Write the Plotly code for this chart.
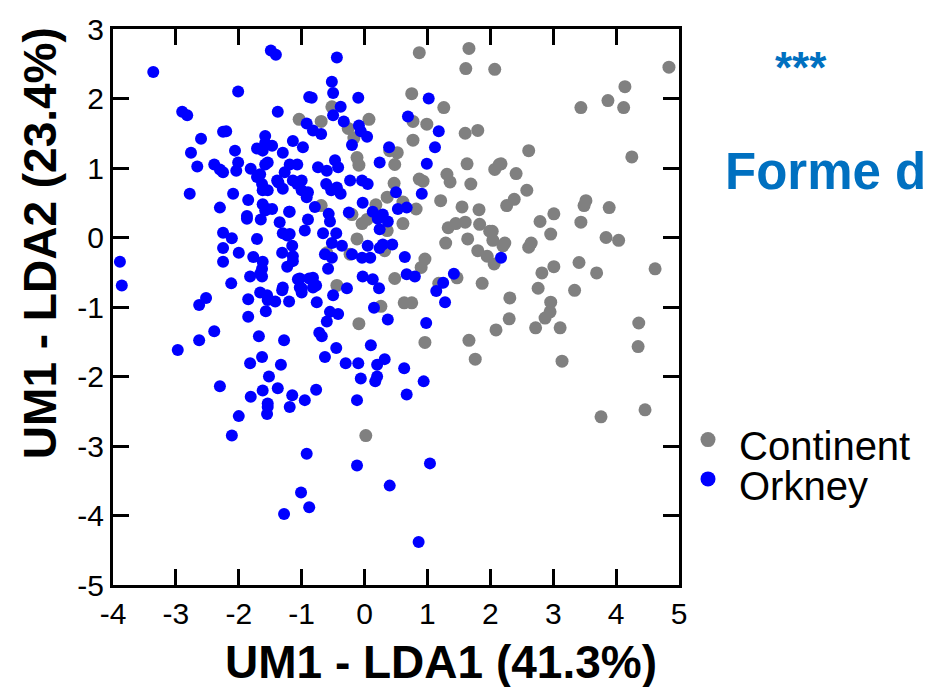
import plotly.graph_objects as go

# Continent (grey) group: LDA1, LDA2
continent_x = [0.87, 1.66, 1.61, 2.07, 0.75, 1.26, -0.52, -0.69, -1.04, 0.07, 0.77, 0.99, -0.26, 1.60, 1.80,
               0.77, -0.17, -0.12, -0.09, 0.52, 0.48, 0.40, 1.63, 2.07, 2.14, 0.87, 0.93, 1.31, 1.36, 1.69,
               0.47, 0.36, 1.21, 1.55, 1.82, 0.82, 0.61, 0.18, -0.69, 4.84, 4.14, 3.87, 4.12, 3.44, 2.61,
               4.25, 2.17, 2.41, 2.58, 2.38, 2.26, 3.52, 3.49, 3.89, 3.01, 2.79, 3.44, 2.96, 3.84, 4.04,
               2.03, 2.04, 2.23, 2.20, 2.65, 2.61, 2.06, 3.01, 3.41, 2.82, 3.69, 4.62, 2.76, 3.34, 2.31,
               2.96, 2.95, 2.87, 2.30, 2.09, 2.72, 3.11, 4.36, 4.35, 3.14, 3.76, 4.46, 0.61, -0.04, 0.04,
               0.20, -0.20, 0.36, -0.12, 0.32, -0.23, -0.60, 0.96, 0.90, 0.48, -0.44, 1.18, 1.47, 1.87,
               1.29, 1.33, 1.45, 1.60, 1.64, 1.83, 1.99, 1.80, 1.95, 0.63, 0.75, 0.26, -0.09, 0.96, 1.66,
               1.76, 0.02]
continent_y = [2.66, 2.72, 2.43, 2.42, 2.07, 1.87, 1.88, 1.67, 1.70, 1.70, 1.67, 1.63, 1.57, 1.50, 1.54,
               1.40, 1.43, 1.15, 1.04, 1.22, 1.05, 1.25, 1.06, 0.98, 1.05, 0.84, 0.81, 0.91, 0.80, 0.77,
               0.78, 0.58, 0.53, 0.44, 0.40, 0.41, 0.51, 0.47, 0.46, 2.45, 2.17, 1.97, 1.87, 1.87, 1.25,
               1.16, 1.06, 0.92, 0.68, 0.55, 0.46, 0.53, 0.46, 0.43, 0.34, 0.23, 0.22, 0.05, 0.00, -0.04,
               0.09, -0.04, -0.08, -0.12, -0.08, -0.14, -0.38, -0.42, -0.36, -0.51, -0.51, -0.45, -0.73, -0.76, -0.87,
               -0.93, -1.07, -1.16, -1.17, -1.33, -1.30, -1.30, -1.23, -1.57, -1.78, -2.58, -2.48, 0.20, 0.20, 0.26,
               0.34, 0.33, 0.10, -0.02, -0.19, -0.24, -0.22, -0.31, -0.43, -0.59, -0.69, -0.66, -0.58, -0.66,
               -0.08, 0.14, 0.20, 0.22, -0.02, 0.19, 0.09, -0.19, -0.27, -0.94, -0.94, -0.99, -1.24, -1.51, -1.48,
               -1.75, -2.85]

# Orkney (blue) group: LDA1, LDA2
orkney_x = [-3.36, -1.49, -1.41, -2.01, -1.38, -2.90, -2.82, -0.88, -2.25, -2.20, -2.60, -2.76, -2.06, -1.58, -1.58,
            -1.71, -1.62, -1.47, -1.14, -0.98, -1.30, -0.92, -2.66, -2.39, -2.30, -2.25, -2.01, -2.04, -1.81, -1.58,
            -1.54, -1.71, -1.66, -1.63, -1.39, -1.37, -1.27, -1.19, -1.07, -1.14, -1.07, -1.00, -0.92, -2.78, -2.09,
            -1.85, -2.30, -1.62, -1.55, -1.47, -1.19, -1.30, -1.62, -1.54, -1.87, -3.89, -3.86, -1.87, -1.65, -1.58,
            -1.35, -1.20, -0.90, -0.95, -2.25, -2.11, -1.71, -1.30, -1.23, -1.19, -2.25, -2.00, -1.77, -1.15, -1.14,
            -1.14, -1.31, -2.25, -1.62, -1.63, -1.66, -1.63, -1.82, -1.23, -1.06, -1.03, -1.00, -0.88, -2.12, -1.66,
            -1.55, -1.54, -1.42, -1.31, -1.30, -1.85, -1.20, -2.52, -2.63, -1.57, -1.85, -2.39, -2.63, -2.97, -1.68,
            -1.28, -1.82, -1.63, -1.33, -1.52, -2.30, -1.81, -1.62, -1.38, -1.15, -0.95, -1.54, -2.00, -1.54, -1.55,
            -1.19, -2.11, -0.92, -1.01, -1.28, -0.88, -0.12, 0.67, -0.12, 1.04, 0.40, 0.86, -0.57, -0.55, -0.25,
            0.13, 0.21, 0.29, 0.37, 0.24, 0.53, 0.67, -0.66, -0.45, -0.52, -0.36, -0.63, -0.52, -0.20, -0.04,
            0.09, 0.05, 0.24, 0.29, 0.44, -0.58, 0.64, -1.03, -1.00, -0.82, -0.82, -0.77, -0.03, 0.13, 0.23,
            -0.28, -0.50, -0.76, 0.67, 0.80, 1.42, 1.25, 1.14, 1.28, -0.55, -0.42, -0.60, 0.15, 0.37, -0.72,
            -0.68, 0.98, -0.45, 0.10, -0.63, -0.30, -0.10, 0.20, 0.32, 0.63, -0.06, 0.20, 0.17, 0.94, -0.77,
            -0.44, -0.52, -0.50, -0.84, -0.10, -0.38, -0.50, -0.33, 1.02, 0.69, -0.82, -0.69, -0.09, -0.06, 0.04,
            1.18, -0.20, 1.12, 0.39, 0.24, 0.99, -0.74, -0.60, -0.47, -0.42, -1.00, -0.90, -0.61, -0.53, -0.44,
            -0.38, -0.23, -0.04, 0.05, 0.50, 0.91, -0.79, -0.03, 2.17]
orkney_y = [2.38, 2.69, 2.63, 2.10, 1.81, 1.81, 1.76, 2.02, 1.52, 1.53, 1.42, 1.22, 1.25, 1.46, 1.36,
            1.28, 1.25, 1.32, 1.39, 1.30, 1.22, 1.64, 1.02, 1.05, 0.98, 0.94, 1.08, 0.96, 0.99, 1.05,
            1.08, 0.87, 0.91, 0.77, 0.82, 0.79, 0.94, 1.05, 1.05, 0.82, 0.77, 0.68, 0.58, 0.63, 0.63,
            0.54, 0.43, 0.48, 0.41, 0.41, 0.37, 0.70, 0.68, 0.68, 0.31, -0.35, -0.69, 0.27, 0.26, 0.39,
            0.22, 0.37, 0.26, 0.10, 0.07, -0.01, -0.02, 0.06, 0.03, 0.05, -0.15, -0.22, -0.28, -0.12, -0.27,
            -0.34, -0.22, -0.35, -0.35, -0.45, -0.52, -0.56, -0.56, -0.42, -0.60, -0.72, -0.79, -0.59, -0.66, -0.79,
            -0.83, -0.90, -0.92, -0.76, -0.72, -0.89, -0.92, -0.87, -0.97, -1.06, -1.14, -1.35, -1.48, -1.62, -1.42,
            -1.48, -1.81, -1.72, -1.83, -2.00, -2.14, -2.29, -2.20, -2.17, -2.27, -2.34, -2.39, -2.57, -2.44, -2.54,
            -2.44, -2.85, -3.11, -3.67, -3.98, -3.88, -2.34, -2.26, -3.28, -3.25, -3.57, -4.38, 0.34, 0.23, 0.36,
            0.37, 0.27, 0.33, 0.23, 0.12, 0.41, 0.43, 0.06, 0.06, -0.08, -0.12, -0.24, -0.29, -0.24, -0.29,
            -0.29, -0.12, -0.15, -0.10, -0.10, -0.45, -0.28, -0.59, -0.73, -0.58, -0.72, -0.69, -0.56, -0.60, -0.73,
            -0.73, -0.83, -0.93, -0.53, -0.56, -0.52, -0.65, -0.77, -0.93, -1.07, -1.10, -1.21, -1.01, -1.18, -1.37,
            -1.42, -1.23, -1.59, -1.55, -1.72, -1.81, -1.81, -1.83, -1.75, -1.88, -2.03, -2.00, -2.07, -2.07, -2.19,
            2.59, 2.24, 2.08, 2.01, 2.01, 1.88, 1.76, 1.67, 2.00, 1.74, 1.54, 1.49, 1.61, 1.53, 1.45,
            1.53, 1.33, 1.30, 1.30, 1.08, 1.06, 1.01, 0.96, 1.11, 1.01, 0.82, 0.65, 0.77, 0.68, 0.72,
            0.63, 0.82, 0.82, 0.77, 0.65, 0.63, 0.44, 0.50, -0.29]

x_ticks = [-4, -3, -2, -1, 0, 1, 2, 3, 4, 5]
y_ticks = [-5, -4, -3, -2, -1, 0, 1, 2, 3]
group_names = ["Continent", "Orkney"]
group_colors = ["#808080", "#0000FF"]
x_title = "UM1 - LDA1 (41.3%)"
y_title = "UM1 - LDA2 (23.4%)"

fig = go.Figure()
fig.add_trace(go.Scatter(x=continent_x, y=continent_y, mode="markers", name=group_names[0],
                         showlegend=False,
                         marker=dict(symbol="circle", size=13, color=group_colors[0])))
fig.add_trace(go.Scatter(x=orkney_x, y=orkney_y, mode="markers", name=group_names[1],
                         showlegend=False,
                         marker=dict(symbol="circle", size=12, color=group_colors[1])))

axis_common = dict(showline=True, linecolor="black", linewidth=3, mirror="ticks",
                   ticks="inside", ticklen=16, tickwidth=3, tickcolor="black",
                   showgrid=False, zeroline=False,
                   tickfont=dict(family="Liberation Sans, Arial", size=30, color="black"))

fig.update_xaxes(range=[-4, 5], tickvals=x_ticks, ticktext=[str(v) for v in x_ticks], **axis_common)
fig.update_yaxes(range=[-5, 3], tickvals=y_ticks, ticktext=[str(v) for v in y_ticks], **axis_common)


def px_x(p):
    return (p - 113) / 566


def px_y(p):
    return (585 - p) / 566


annotations = [
    dict(text="<b>" + x_title + "</b>", xref="paper", yref="paper",
         x=px_x(441), y=px_y(663), xanchor="center", yanchor="middle",
         showarrow=False, font=dict(size=46, color="black")),
    dict(text="<b>" + y_title + "</b>", xref="paper", yref="paper", textangle=-90,
         x=px_x(40), y=px_y(237), xanchor="center", yanchor="middle",
         showarrow=False, font=dict(size=46, color="black")),
    dict(text="<b>***</b>", xref="paper", yref="paper",
         x=px_x(801), y=px_y(58), xanchor="center", yanchor="middle",
         showarrow=False, font=dict(size=44, color="#0070C0")),
    dict(text="<b>Forme d</b>", xref="paper", yref="paper",
         x=px_x(723), y=px_y(164), xanchor="left", yanchor="middle",
         showarrow=False, font=dict(size=51, color="#0070C0")),
]

# manual legend (markers as shapes, labels as text)
legend_marker_y = [437, 477]
legend_text_y = [444, 484]
shapes = []
for name, color, my, ty in zip(group_names, group_colors, legend_marker_y, legend_text_y):
    shapes.append(dict(type="circle", xref="paper", yref="paper",
                       xsizemode="pixel", ysizemode="pixel",
                       xanchor=px_x(708), yanchor=px_y(my),
                       x0=-7.5, x1=7.5, y0=-7.5, y1=7.5,
                       fillcolor=color, line=dict(width=0)))
    annotations.append(dict(text=name, xref="paper", yref="paper",
                            x=px_x(737), y=px_y(ty), xanchor="left", yanchor="middle",
                            showarrow=False, font=dict(size=40, color="black")))

fig.update_layout(
    width=929, height=687,
    margin=dict(l=113, r=250, t=19, b=102),
    paper_bgcolor="white", plot_bgcolor="white",
    font=dict(family="Liberation Sans, Arial", color="black"),
    showlegend=False,
    annotations=annotations,
    shapes=shapes,
)

fig.write_html("out.html")
